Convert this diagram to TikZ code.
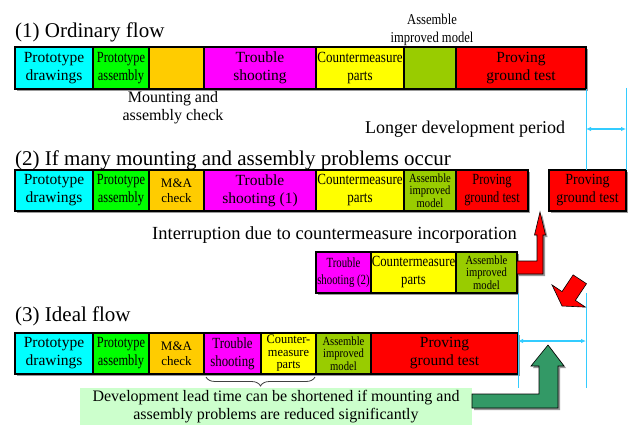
\documentclass[tikz,border=0pt]{standalone}
\usepackage{fontspec}
\setmainfont{Liberation Serif}
\usetikzlibrary{arrows.meta,decorations.pathreplacing,calc}
\definecolor{cCyan}{HTML}{00FFFF}
\definecolor{cGreen}{HTML}{00FF00}
\definecolor{cOrange}{HTML}{FFCC00}
\definecolor{cMagenta}{HTML}{FF00FF}
\definecolor{cYellow}{HTML}{FFFF00}
\definecolor{cOlive}{HTML}{99CC00}
\definecolor{cRed}{HTML}{FF0000}
\definecolor{cBlue}{HTML}{33CCFF}
\definecolor{cPale}{HTML}{CCFFCC}
\definecolor{cDark}{HTML}{339966}
\newcommand{\sx}[2]{\scalebox{#1}[1]{#2}}
\newcommand{\fN}{\fontsize{15.5}{18}\selectfont}
\newcommand{\fS}{\fontsize{13}{15}\selectfont}
\newcommand{\fT}{\fontsize{12.5}{12.5}\selectfont}
\newcommand{\fH}{\fontsize{21}{24}\selectfont}
\newcommand{\cell}[8][]{\node[cellbox, fill=#7, minimum width={(#4-#3)*1pt}, minimum height={(#6-#5)*1pt}, #1] (#2) at ({(#3+#4)/2},{(#5+#6)/2}) {#8};}
\newcommand{\barbg}[4]{\fill[barshadow] (#1+2,#3+2) rectangle (#2+2,#4+2);}
\newcommand{\barfr}[4]{\draw[barframe] (#1,#3) rectangle (#2,#4);}
\tikzset{
  cellbox/.style={draw=black, line width=1.2pt, inner sep=0pt, outer sep=0pt, align=center, font=\fN, text=black},
  smalltxt/.style={font=\fS},
  tinytxt/.style={font=\fT},
  barframe/.style={draw=black, line width=2pt},
  barshadow/.style={fill=black!40},
  dimline/.style={draw=cBlue, line width=1pt},
  dimarrow/.style={draw=cBlue, line width=1.5pt, {Latex[length=5pt,width=4.5pt]}-{Latex[length=5pt,width=4.5pt]}},
  heading/.style={font=\fH, anchor=base west, inner sep=0pt},
  plain/.style={inner sep=0pt, align=center},
}
\begin{document}
\begin{tikzpicture}[x=1pt,y=-1pt]
\useasboundingbox (0,0) rectangle (634,425);
\fill[white] (0,0) rectangle (634,425);

% headings
\node[heading] (h1) at (15,38) {(1) Ordinary flow};
\node[heading] (h2) at (15,165) {(2) If many mounting and assembly problems occur};
\node[heading] (h3) at (15,321) {(3) Ideal flow};

% ---------- row 1
\barbg{15}{586}{47}{89}
\cell{r1a}{15}{93}{47}{89}{cCyan}{Prototype\\drawings}
\cell{r1b}{93}{149}{47}{89}{cGreen}{\sx{0.8}{Prototype}\\\sx{0.8}{assembly}}
\cell{r1c}{149}{204}{47}{89}{cOrange}{}
\cell{r1d}{204}{316}{47}{89}{cMagenta}{Trouble\\shooting}
\cell{r1e}{316}{404}{47}{89}{cYellow}{\sx{0.84}{Countermeasure}\\\sx{0.84}{parts}}
\cell{r1f}{404}{456}{47}{89}{cOlive}{}
\cell{r1g}{456}{586}{47}{89}{cRed}{Proving\\ground test}
\barfr{15}{586}{47}{89}

\node[plain, font=\fontsize{16}{18}\selectfont] (lmount) at (173,108) {Mounting and\\assembly check};
\node[plain, font=\fontsize{15}{18}\selectfont] (lassem) at (432,29.5) {\sx{0.84}{Assemble}\\\sx{0.84}{improved model}};
\node[inner sep=0pt, anchor=base west, font=\fontsize{18}{20}\selectfont] (llong) at (365,134) {Longer development period};

% ---------- row 2
\barbg{15}{528}{170}{211}
\cell{r2a}{15}{93}{170}{211}{cCyan}{Prototype\\drawings}
\cell{r2b}{93}{149}{170}{211}{cGreen}{\sx{0.8}{Prototype}\\\sx{0.8}{assembly}}
\cell[smalltxt]{r2c}{149}{204}{170}{211}{cOrange}{M\&A\\check}
\cell{r2d}{204}{316}{170}{211}{cMagenta}{Trouble\\shooting (1)}
\cell{r2e}{316}{404}{170}{211}{cYellow}{\sx{0.84}{Countermeasure}\\\sx{0.84}{parts}}
\cell[tinytxt]{r2f}{404}{456}{170}{211}{cOlive}{\sx{0.85}{Assemble}\\\sx{0.85}{improved}\\\sx{0.85}{model}}
\cell{r2g}{456}{528}{170}{211}{cRed}{\sx{0.8}{Proving}\\\sx{0.8}{ground test}}
\barfr{15}{528}{170}{211}

\barbg{549}{626}{170}{211}
\cell{r2h}{549}{626}{170}{211}{cRed}{\sx{0.9}{Proving}\\\sx{0.9}{ground test}}
\barfr{549}{626}{170}{211}

\node[inner sep=0pt, anchor=base west, font=\fontsize{18.5}{20}\selectfont] (lint) at (152,239) {Interruption due to countermeasure incorporation};

% ---------- interruption row
\barbg{316}{517}{252}{293}
\cell[font=\fontsize{14}{17}\selectfont]{r2ba}{316}{371}{252}{293}{cMagenta}{\sx{0.77}{Trouble}\\\sx{0.77}{shooting (2)}}
\cell{r2bb}{371}{456}{252}{293}{cYellow}{\sx{0.82}{Countermeasure}\\\sx{0.82}{parts}}
\cell[tinytxt]{r2bc}{456}{517}{252}{293}{cOlive}{\sx{0.85}{Assemble}\\\sx{0.85}{improved}\\\sx{0.85}{model}}
\barfr{316}{517}{252}{293}

% ---------- row 3
\barbg{15}{518}{333}{374}
\cell{r3a}{15}{93}{333}{374}{cCyan}{Prototype\\drawings}
\cell{r3b}{93}{149}{333}{374}{cGreen}{\sx{0.8}{Prototype}\\\sx{0.8}{assembly}}
\cell[smalltxt]{r3c}{149}{204}{333}{374}{cOrange}{M\&A\\check}
\cell{r3d}{204}{261}{333}{374}{cMagenta}{\sx{0.83}{Trouble}\\\sx{0.83}{shooting}}
\cell[font=\fontsize{13}{12.5}\selectfont]{r3e}{261}{316}{333}{374}{cYellow}{\sx{0.95}{Counter-}\\\sx{0.95}{measure}\\\sx{0.95}{parts}}
\cell[tinytxt]{r3f}{316}{371}{333}{374}{cOlive}{\sx{0.85}{Assemble}\\\sx{0.85}{improved}\\\sx{0.85}{model}}
\cell{r3g}{371}{518}{333}{374}{cRed}{Proving\\ground test}
\barfr{15}{518}{333}{374}

% brace
\coordinate (bl) at (206,377);
\coordinate (br) at (315,377);
\draw[black!75, line width=0.8pt, decorate, decoration={brace, mirror, amplitude=9pt}] (bl) -- (br);

% green note box
\node[fill=cPale, inner sep=0pt, minimum width=392pt, minimum height=37pt, align=center, font=\fontsize{16}{17.5}\selectfont] (gbox) at (276,406.5) {Development lead time can be shortened if mounting and\\assembly problems are reduced significantly};

% dimension lines
\coordinate (d1a) at (586,89);
\coordinate (d1b) at (586,170);
\coordinate (d1c) at (626,88);
\coordinate (d1d) at (626,170);
\coordinate (d1l) at (586,129);
\coordinate (d1r) at (626,129);
\draw[dimline] (d1a) -- (d1b);
\draw[dimline] (d1c) -- (d1d);
\draw[dimarrow] (d1l) -- (d1r);

\coordinate (d3a) at (518,293);
\coordinate (d3b) at (518,388);
\coordinate (d3c) at (586,293);
\coordinate (d3d) at (586,388);
\coordinate (d3l) at (518,341);
\coordinate (d3r) at (586,341);
\draw[dimline] (d3a) -- (d3b);
\draw[dimline] (d3c) -- (d3d);
\draw[dimarrow] (d3l) -- (d3r);

% red elbow arrow
\fill[black!40] (519,263) -- (539,263) -- (539,237) -- (536.5,237) -- (542,214) -- (547.5,237) -- (545,237) -- (545,276) -- (519,276) -- cycle;
\draw[fill=cRed, draw=black, line width=0.6pt] (517,261) -- (537,261) -- (537,235) -- (534.5,235) -- (540,212) -- (545.5,235) -- (543,235) -- (543,274) -- (517,274) -- cycle;

% red down-left arrow
\draw[fill=cRed, draw=black, line width=0.6pt] (562,306) -- (585.4,307.1) -- (575.4,300.4) -- (586.5,283.7) -- (573.1,274.9) -- (562,291.6) -- (552,284.9) -- cycle;

% green elbow arrow
\fill[black!40] (474,396) -- (541,396) -- (541,368) -- (533,368) -- (550,347) -- (566,368) -- (560,368) -- (560,410) -- (474,410) -- cycle;
\draw[fill=cDark, draw=black, line width=0.6pt] (472,394) -- (539,394) -- (539,366) -- (531,366) -- (548,345) -- (564,366) -- (558,366) -- (558,408) -- (472,408) -- cycle;

\end{tikzpicture}
\end{document}
